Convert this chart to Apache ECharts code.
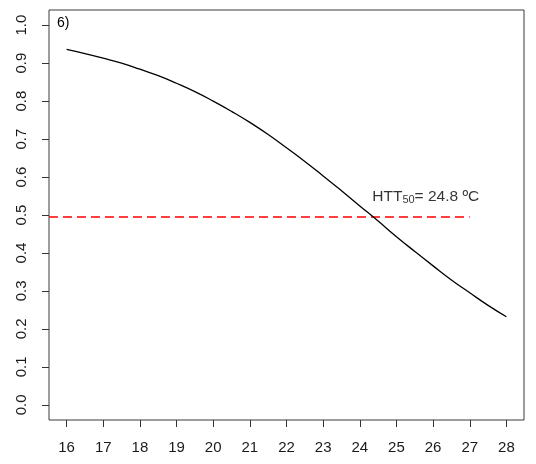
<!DOCTYPE html>
<html>
<head>
<meta charset="utf-8">
<script src="https://cdn.jsdelivr.net/npm/echarts@6/dist/echarts.min.js"></script>
<style>
html,body{margin:0;padding:0;background:#fff;}
#chart{width:536px;height:464px;}
</style>
</head>
<body>
<div id="chart"></div>
<script>
// Data
var temps = [16, 16.5, 17, 17.5, 18, 18.5, 19, 19.5, 20, 20.5, 21, 21.5, 22, 22.5, 23, 23.5, 24, 24.5, 25, 25.5, 26, 26.5, 27, 27.5, 28];
var prob  = [0.936, 0.925, 0.913, 0.900, 0.884, 0.867, 0.847, 0.825, 0.800, 0.773, 0.744, 0.712, 0.677, 0.641, 0.603, 0.564, 0.524, 0.484, 0.443, 0.404, 0.366, 0.329, 0.295, 0.262, 0.232];
var refLineX = [15.52, 27.0];
var refLineY = [0.495, 0.495];
var xTicks = [16, 17, 18, 19, 20, 21, 22, 23, 24, 25, 26, 27, 28];
var yTicks = [0, 0.1, 0.2, 0.3, 0.4, 0.5, 0.6, 0.7, 0.8, 0.9, 1.0];
var panelLabel = '6)';
var annotPos = [25.8, 0.547];
var annotMain = 'HTT';
var annotSub = '50';
var annotRest = '= 24.8 ºC';

var FONT = '"Liberation Sans", Arial, sans-serif';
var chart = echarts.init(document.getElementById('chart'));

var curve = temps.map(function (t, i) { return [t, prob[i]]; });
var refLine = refLineX.map(function (x, i) { return [x, refLineY[i]]; });

chart.setOption({
  animation: false,
  backgroundColor: '#fff',
  grid: {
    left: 49, right: 12, top: 10, bottom: 44,
    show: true, borderColor: '#3a3a3a', borderWidth: 1, backgroundColor: 'transparent'
  },
  xAxis: {
    type: 'value', min: 15.52, max: 28.48, position: 'bottom',
    axisLine: { show: false, onZero: false },
    splitLine: { show: false },
    axisTick: { show: true, inside: false, customValues: xTicks, length: 7, lineStyle: { color: '#333', width: 1 } },
    axisLabel: { customValues: xTicks, margin: 20, color: '#1a1a1a', fontSize: 15, fontFamily: FONT,
                 formatter: function (v) { return String(Math.round(v)); } }
  },
  yAxis: {
    type: 'value', min: -0.04, max: 1.04, position: 'left',
    axisLine: { show: false, onZero: false },
    splitLine: { show: false },
    axisTick: { show: true, inside: false, customValues: yTicks, length: 7, lineStyle: { color: '#333', width: 1 } },
    axisLabel: { customValues: yTicks, margin: 20, rotate: 90, color: '#1a1a1a', fontSize: 15, fontFamily: FONT,
                 formatter: function (v) { return v.toFixed(1); } }
  },
  series: [
    {
      type: 'line', data: refLine, symbol: 'none',
      lineStyle: { color: '#ff0000', width: 1.5, type: [9, 5] }
    },
    {
      type: 'line', data: curve, symbol: 'none', smooth: true,
      lineStyle: { color: '#000', width: 1.3 }
    },
    {
      type: 'scatter', data: [annotPos], symbolSize: 0, silent: true,
      label: {
        show: true, position: 'inside',
        formatter: '{a|' + annotMain + '}{s|' + annotSub + '}{a|' + annotRest + '}',
        rich: {
          a: { fontSize: 15.5, fontFamily: FONT, color: '#000' },
          s: { fontSize: 11, fontFamily: FONT, color: '#000', padding: [6, 0, 0, 0] }
        }
      }
    }
  ],
  graphic: [
    { type: 'text', left: 57, top: 16, style: { text: panelLabel, font: '14px ' + FONT, fill: '#000' } }
  ]
});
</script>
</body>
</html>
